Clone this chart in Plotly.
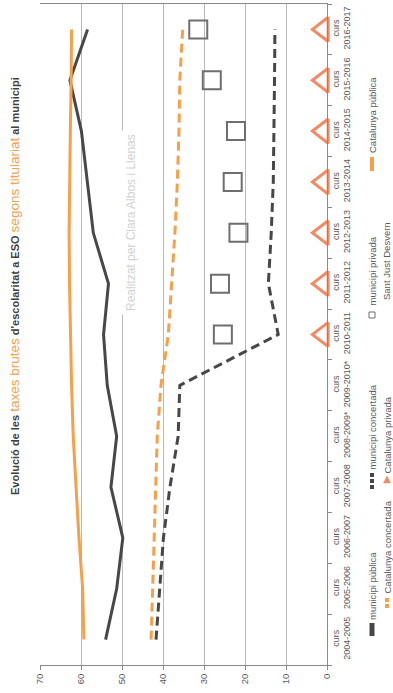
import plotly.graph_objects as go

# ---------------- data ----------------
cursos = ["2004-2005", "2005-2006", "2006-2007", "2007-2008", "2008-2009*", "2009-2010*",
          "2010-2011", "2011-2012", "2012-2013", "2013-2014", "2014-2015", "2015-2016", "2016-2017"]
tick_labels = ["curs<br>" + c for c in cursos]

municipi_publica = [54.0, 51.3, 49.8, 52.7, 51.3, 53.6, 54.5, 53.3, 57.0, 58.4, 59.9, 62.7, 58.4]
municipi_concertada = [41.7, 40.8, 39.9, 38.3, 36.3, 35.9, 11.9, 14.3, 13.6, 13.1, 12.9, 12.8, 12.7]
municipi_privada = [None, None, None, None, None, None, 25.4, 26.1, 21.6, 23.0, 22.2, 28.1, 31.4]
catalunya_publica = [59.3, 59.6, 60.5, 61.2, 61.9, 62.3, 62.6, 62.8, 62.9, 62.8, 62.6, 62.4, 62.3]
catalunya_concertada = [42.9, 42.5, 42.2, 41.8, 41.4, 40.5, 38.7, 37.9, 37.1, 36.5, 36.1, 35.9, 35.2]
catalunya_privada = [None, None, None, None, None, None, 1.0, 1.0, 1.0, 1.0, 1.0, 1.0, 1.0]

value_ticks = [0, 10, 20, 30, 40, 50, 60, 70]

# ---------------- styling ----------------
W, H = 393, 693
ML, MR, MT, MB = 40, 66, 4, 28
PW, PH = W - ML - MR, H - MT - MB
DARK = "#474747"
ORANGE = "#F6A04A"
SALMON = "#F38A62"
GRID = "#b9b9b9"
AXIS = "#8a8a8a"
TXT = "#595959"
FONT = "Liberation Sans, Arial, sans-serif"


def px(x):
    return (x - ML) / PW


def py(y):
    return (H - MB - y) / PH


fig = go.Figure()

fig.add_trace(go.Scatter(x=municipi_publica, y=tick_labels, mode="lines",
                         line=dict(color=DARK, width=3), name="municipi pública"))
fig.add_trace(go.Scatter(x=catalunya_publica, y=tick_labels, mode="lines",
                         line=dict(color=ORANGE, width=3), name="Catalunya pública"))
fig.add_trace(go.Scatter(x=catalunya_concertada, y=tick_labels, mode="lines",
                         line=dict(color=ORANGE, width=3, dash="9px,5px"), name="Catalunya concertada"))
fig.add_trace(go.Scatter(x=municipi_concertada, y=tick_labels, mode="lines",
                         line=dict(color=DARK, width=3, dash="9px,5px"), name="municipi concertada"))
fig.add_trace(go.Scatter(x=municipi_privada, y=tick_labels, mode="markers",
                         marker=dict(symbol="square", size=18, color="rgba(255,255,255,0)",
                                     line=dict(color="#6e6e6e", width=2)),
                         name="municipi privada", cliponaxis=False))
fig.add_trace(go.Scatter(x=catalunya_privada, y=tick_labels, mode="markers",
                         marker=dict(symbol="triangle-left", size=21, color="white",
                                     line=dict(color=SALMON, width=3)),
                         name="Catalunya privada", cliponaxis=False))

fig.update_layout(
    width=W, height=H,
    margin=dict(l=ML, r=MR, t=MT, b=MB, autoexpand=False),
    paper_bgcolor="white", plot_bgcolor="white",
    showlegend=False,
    font=dict(family=FONT, color=TXT, size=9),
    xaxis=dict(range=[70, 0], tickvals=value_ticks, tickangle=-90, automargin=False,
               showgrid=True, gridcolor=GRID, gridwidth=1,
               showline=True, linecolor=AXIS, linewidth=1, mirror=True,
               ticks="outside", ticklen=4, tickcolor=AXIS, zeroline=False,
               tickfont=dict(size=9.5, color=TXT)),
    yaxis=dict(side="right", type="category", categoryorder="array", categoryarray=tick_labels,
               range=[-0.5, 12.5], tickangle=-90, tickson="boundaries", automargin=False,
               showgrid=False, showline=True, linecolor=AXIS, linewidth=1,
               ticks="outside", ticklen=4, tickcolor=AXIS,
               tickfont=dict(size=9, color=TXT)),
)

# title (rotated)
title = ("<b>Evolució de les </b><span style='font-size:13.5px;color:%s'>taxes brutes</span>"
         "<b> d'escolaritat a ESO </b><span style='font-size:13.5px;color:%s'>segons titulariat</span>"
         "<b> al municipi</b>") % (ORANGE, ORANGE)
fig.add_annotation(xref="paper", yref="paper", x=px(15), y=py(286), text=title,
                   textangle=-90, showarrow=False, xanchor="center", yanchor="middle",
                   font=dict(size=11, color="#3f3f3f", family=FONT))

# watermark
fig.add_annotation(xref="paper", yref="paper", x=px(131), y=py(223),
                   text="Realitzat per Clara Albos i Llenas", textangle=-90, showarrow=False,
                   xanchor="center", yanchor="middle", bgcolor="white", borderpad=3,
                   font=dict(size=12, color="#d2d2d2", family="Liberation Sans Narrow, Arial Narrow, sans-serif"))

# ---------------- manual rotated legend ----------------
legend_items = [
    # (x_px, symbol, y_sym_bottom, y_sym_top, text_bottom, label)
    (372, "solid_dark", 636, 623, 621, "municipi pública"),
    (372, "dash_dark", 489, 473, 471, "municipi concertada"),
    (372, "square", 315, 315, 307, "municipi privada"),
    (372, "solid_orange", 171, 157, 154, "Catalunya pública"),
    (387, "dash_orange", 608, 597, 595, "Catalunya concertada"),
    (387, "triangle", 480, 480, 475, "Catalunya privada"),
    (387, None, 0, 0, 301, "Sant Just Desvern"),
]
for x, sym, y0, y1, tb, label in legend_items:
    if sym == "solid_dark":
        fig.add_shape(type="line", xref="paper", yref="paper", x0=px(x), x1=px(x), y0=py(y0), y1=py(y1),
                      line=dict(color=DARK, width=5))
    elif sym == "solid_orange":
        fig.add_shape(type="line", xref="paper", yref="paper", x0=px(x), x1=px(x), y0=py(y0), y1=py(y1),
                      line=dict(color=ORANGE, width=4))
    elif sym == "dash_dark":
        fig.add_shape(type="line", xref="paper", yref="paper", x0=px(x), x1=px(x), y0=py(y0), y1=py(y1),
                      line=dict(color=DARK, width=4, dash="4px,2px"))
    elif sym == "dash_orange":
        fig.add_shape(type="line", xref="paper", yref="paper", x0=px(x), x1=px(x), y0=py(y0), y1=py(y1),
                      line=dict(color=ORANGE, width=4, dash="4px,2px"))
    elif sym == "square":
        fig.add_shape(type="rect", xref="paper", yref="paper", x0=px(x - 3), x1=px(x + 3),
                      y0=py(y0 + 3), y1=py(y0 - 3), line=dict(color="#6e6e6e", width=1))
    elif sym == "triangle":
        path = "M %f %f L %f %f L %f %f Z" % (px(x - 3.5), py(y0 + 3), px(x + 3.5), py(y0 + 3),
                                             px(x), py(y0 - 4))
        fig.add_shape(type="path", xref="paper", yref="paper", path=path,
                      fillcolor=SALMON, line=dict(color=SALMON, width=0.5))
    fig.add_annotation(xref="paper", yref="paper", x=px(x), y=py(tb), text=label,
                       textangle=-90, showarrow=False, xanchor="center", yanchor="bottom",
                       borderpad=0, font=dict(size=9.5, color=TXT, family=FONT))

fig.write_html("out.html", config={"displayModeBar": False},
               post_script="document.body.style.margin='0';document.body.style.padding='0';")
